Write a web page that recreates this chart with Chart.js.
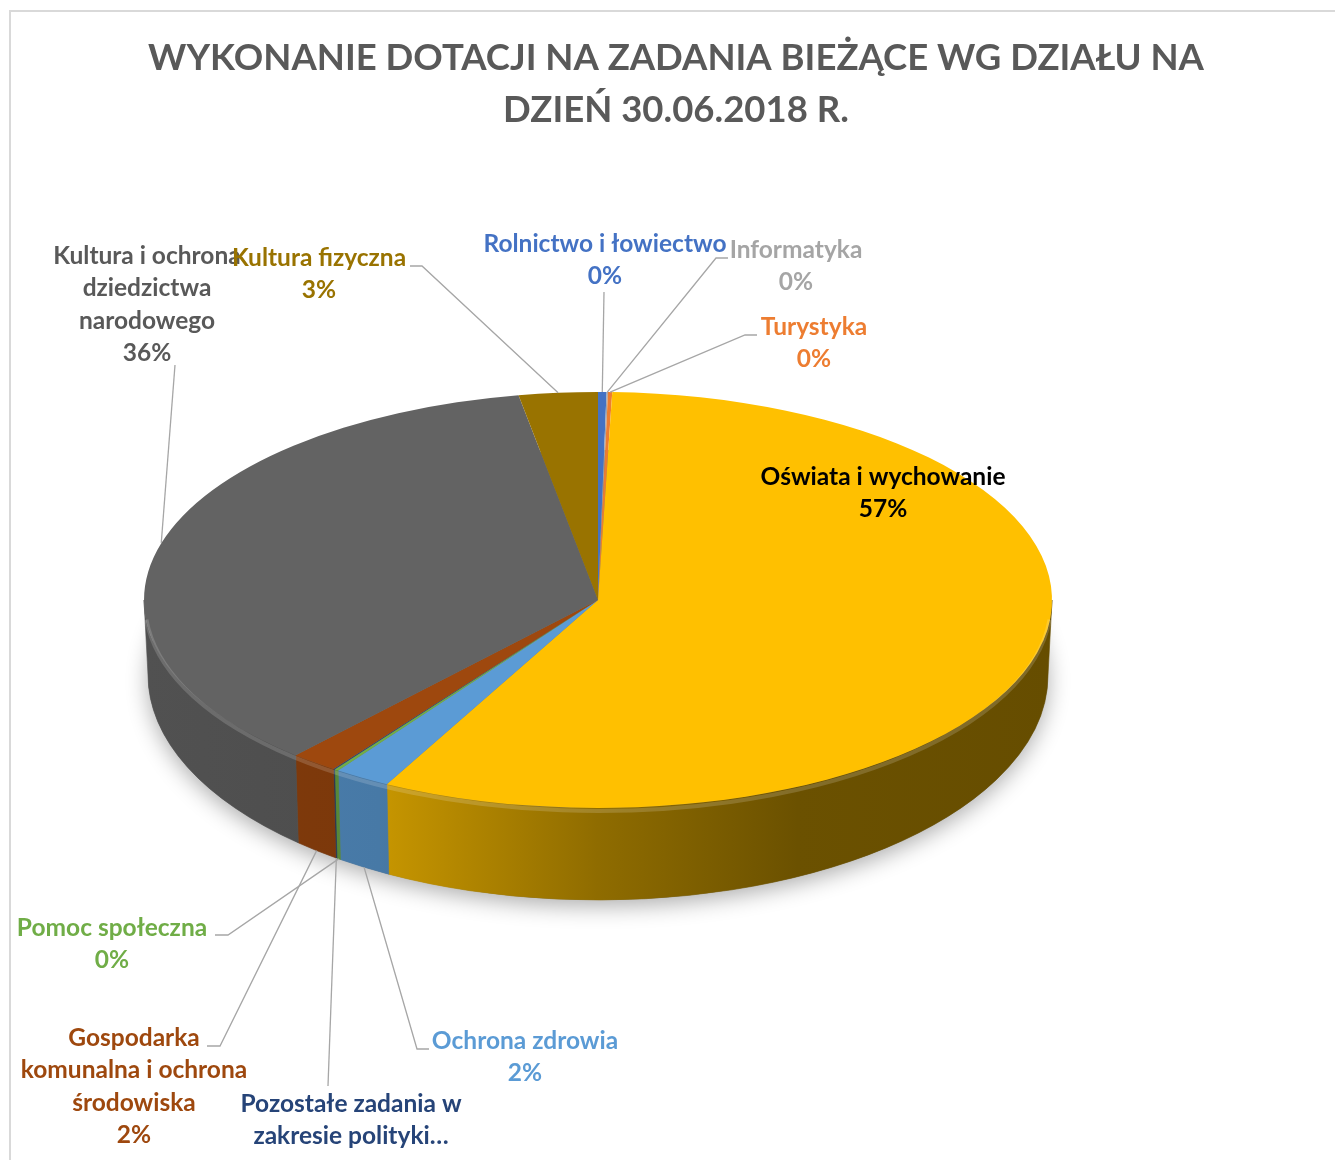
<!DOCTYPE html>
<html>
<head>
<meta charset="utf-8">
<script src="https://cdn.jsdelivr.net/npm/chart.js@4.4.0/dist/chart.umd.min.js"></script>
<style>
  html, body { margin: 0; padding: 0; background: #fff; }
  #wrap { position: relative; width: 1335px; height: 1160px; }
</style>
</head>
<body>
<div id="wrap"><canvas id="chart"></canvas></div>
<script>
// data, clockwise from 12 o'clock
const categories = [
  'Rolnictwo i łowiectwo',
  'Informatyka',
  'Turystyka',
  'Oświata i wychowanie',
  'Ochrona zdrowia',
  'Pomoc społeczna',
  'Pozostałe zadania w zakresie polityki społecznej',
  'Gospodarka komunalna i ochrona środowiska',
  'Kultura i ochrona dziedzictwa narodowego',
  'Kultura fizyczna'
];
const shares = [0.3, 0.05, 0.15, 57.2, 2.0, 0.15, 0.05, 1.7, 35.6, 2.8];
const sliceColors = ['#4472C4', '#A5A5A5', '#ED7D31', '#FFC000', '#5B9BD5', '#70AD47', '#264478', '#9E480E', '#636363', '#997300'];
const textColors = ['#4472C4', '#A5A5A5', '#ED7D31', '#000000', '#5B9BD5', '#70AD47', '#264478', '#9E480E', '#595959', '#997300'];
const labelLines = [
  ['Rolnictwo i łowiectwo'],
  ['Informatyka'],
  ['Turystyka'],
  ['Oświata i wychowanie'],
  ['Ochrona zdrowia'],
  ['Pomoc społeczna'],
  ['Pozostałe zadania w', 'zakresie polityki…'],
  ['Gospodarka', 'komunalna i ochrona', 'środowiska'],
  ['Kultura i ochrona', 'dziedzictwa', 'narodowego'],
  ['Kultura fizyczna']
];
const showPercent = [true, true, true, true, true, true, false, true, true, true];
const titleLines = ['WYKONANIE DOTACJI NA ZADANIA BIEŻĄCE WG DZIAŁU NA', 'DZIEŃ 30.06.2018 R.'];

// where the flattened pie sits on the page (bottom rim a bit wider for perspective)
const CX = 598, CY = 600, RX = 454, RY = 208;
const SIDE = 75, RY_BOTTOM = 225;
// label layout: text centre, leader start, elbow end (null = none)
const labelLayout = [
  { x: 605, y: 244, from: [604, 292], elbow: null },
  { x: 796, y: 250, from: [728, 258], elbow: [716, 258] },
  { x: 814, y: 327, from: [757, 335], elbow: [745, 335] },
  { x: 883, y: 477, from: null, elbow: null },
  { x: 525, y: 1041, from: [429, 1049], elbow: [417, 1049] },
  { x: 112, y: 928, from: [215, 935], elbow: [228, 935] },
  { x: 351, y: 1104, from: [328, 1086], elbow: null },
  { x: 134, y: 1038, from: [207, 1046], elbow: [220, 1046] },
  { x: 147, y: 256, from: [175, 365], elbow: null },
  { x: 319, y: 258, from: [410, 266], elbow: [422, 266] }
];
const LINE_H = 32.5;

function shade(hex, f) {
  const n = parseInt(hex.slice(1), 16);
  const r = Math.round(((n >> 16) & 255) * f), g = Math.round(((n >> 8) & 255) * f), b = Math.round((n & 255) * f);
  return `rgb(${r},${g},${b})`;
}

const frame = {
  id: 'frame',
  beforeDraw(chart) {
    const ctx = chart.ctx;
    ctx.save();
    ctx.strokeStyle = '#D9D9D9';
    ctx.lineWidth = 2;
    ctx.beginPath();
    ctx.moveTo(10, 1160);
    ctx.lineTo(10, 11);
    ctx.lineTo(1335, 11);
    ctx.stroke();
    ctx.restore();
  }
};

const pie3d = {
  id: 'pie3d',
  beforeDatasetsDraw(chart) {
    const ctx = chart.ctx;
    const arcs = chart.getDatasetMeta(0).data;
    const r = arcs[0].outerRadius;
    // shadow under the disc
    ctx.save();
    ctx.shadowColor = 'rgba(0,0,0,0.32)';
    ctx.shadowBlur = 22;
    ctx.shadowOffsetY = 6;
    ctx.fillStyle = '#777';
    ctx.beginPath();
    ctx.ellipse(CX, CY + SIDE, r - 4, RY_BOTTOM, 0, 0, Math.PI * 2);
    ctx.fill();
    ctx.restore();
    // outer side of front-facing slices
    arcs.forEach((arc, i) => {
      const a1 = Math.max(arc.startAngle, 0);
      const a2 = Math.min(arc.endAngle, Math.PI);
      if (a2 <= a1) return;
      const g = ctx.createLinearGradient(CX - r, 0, CX + r, 0);
      const c = sliceColors[i];
      g.addColorStop(0, shade(c, 0.82));
      g.addColorStop(0.26, shade(c, 0.78));
      g.addColorStop(0.5, shade(c, 0.56));
      g.addColorStop(0.72, shade(c, 0.42));
      g.addColorStop(1, shade(c, 0.40));
      ctx.save();
      ctx.fillStyle = g;
      ctx.strokeStyle = g;
      ctx.lineWidth = 0.6;
      ctx.beginPath();
      ctx.ellipse(CX, CY, r, RY, 0, a1, a2);
      ctx.ellipse(CX, CY + SIDE, r - 4, RY_BOTTOM, 0, a2, a1, true);
      ctx.closePath();
      ctx.fill();
      ctx.stroke();
      ctx.restore();
    });
    // flatten the top face drawn by Chart.js
    const a = arcs[0];
    ctx.save();
    ctx.translate(CX, CY);
    ctx.scale(1, RY / r);
    ctx.translate(-a.x, -a.y);
  },
  afterDatasetsDraw(chart) {
    const ctx = chart.ctx;
    ctx.restore();
    const r = chart.getDatasetMeta(0).data[0].outerRadius;
    // soft bevel highlight just under the front rim
    ctx.save();
    ctx.strokeStyle = 'rgba(255,255,255,0.16)';
    ctx.lineWidth = 4;
    ctx.beginPath();
    ctx.ellipse(CX, CY + 3, r - 1, RY, 0, 0.08, Math.PI - 0.08);
    ctx.stroke();
    ctx.restore();
  }
};

const sliceLabels = {
  id: 'sliceLabels',
  afterDraw(chart) {
    const ctx = chart.ctx;
    const arcs = chart.getDatasetMeta(0).data;
    const total = shares.reduce((s, v) => s + v, 0);
    ctx.save();
    ctx.strokeStyle = '#A6A6A6';
    ctx.lineWidth = 1.3;
    arcs.forEach((arc, i) => {
      const L = labelLayout[i];
      if (!L.from) return;
      const mid = (arc.startAngle + arc.endAngle) / 2;
      const front = Math.sin(mid) > 0.2;
      const ex = CX + (arc.outerRadius - (front ? 4 : 0)) * Math.cos(mid);
      const ey = front ? CY + SIDE + RY_BOTTOM * Math.sin(mid) : CY + RY * Math.sin(mid);
      ctx.beginPath();
      ctx.moveTo(L.from[0], L.from[1]);
      if (L.elbow) ctx.lineTo(L.elbow[0], L.elbow[1]);
      ctx.lineTo(ex, ey);
      ctx.stroke();
    });
    ctx.font = 'bold 24.5px Lato, "Open Sans", sans-serif';
    ctx.textAlign = 'center';
    ctx.textBaseline = 'middle';
    labelLines.forEach((lines, i) => {
      const L = labelLayout[i];
      const all = showPercent[i] ? lines.concat([Math.round(shares[i] / total * 100) + '%']) : lines;
      ctx.fillStyle = textColors[i];
      all.forEach((t, j) => ctx.fillText(t, L.x, L.y + j * LINE_H));
    });
    ctx.restore();
  }
};

new Chart(document.getElementById('chart'), {
  type: 'pie',
  data: {
    labels: categories,
    datasets: [{
      data: shares,
      backgroundColor: sliceColors,
      borderWidth: 0,
      clip: false
    }]
  },
  options: {
    responsive: true,
    maintainAspectRatio: false,
    animation: false,
    events: [],
    radius: RX,
    layout: { padding: { left: 17 } },
    plugins: {
      legend: { display: false },
      tooltip: { enabled: false },
      title: {
        display: true,
        text: titleLines,
        color: '#595959',
        font: { family: 'Lato', size: 36.5, weight: 'bold', lineHeight: 1.43 },
        padding: { top: 32, bottom: 20 }
      }
    }
  },
  plugins: [frame, pie3d, sliceLabels]
});
</script>
</body>
</html>
